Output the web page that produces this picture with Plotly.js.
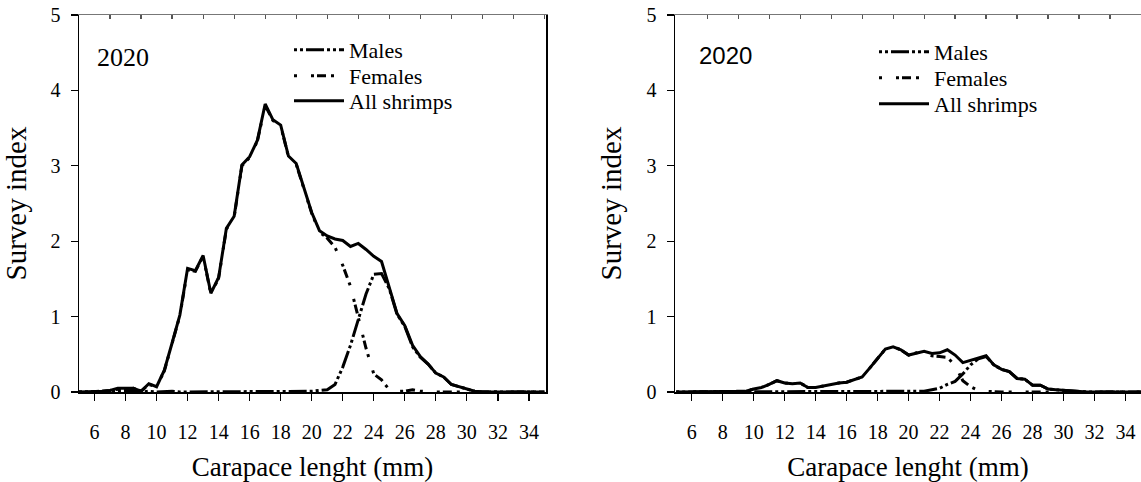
<!DOCTYPE html>
<html>
<head>
<meta charset="utf-8">
<script src="https://cdn.plot.ly/plotly-3.0.1.min.js"></script>
<style>html,body{margin:0;padding:0;background:#fff;}#chart{width:1141px;height:482px;}</style>
</head>
<body>
<div id="chart"></div>
<script>
// Carapace length classes (mm)
var lengths = [5,5.5,6,6.5,7,7.5,8,8.5,9,9.5,10,10.5,11,11.5,12,12.5,13,13.5,14,14.5,15,15.5,16,16.5,17,17.5,18,18.5,19,19.5,20,20.5,21,21.5,22,22.5,23,23.5,24,24.5,25,25.5,26,26.5,27,27.5,28,28.5,29,29.5,30,30.5,31,31.5,32,32.5,33,33.5,34,34.5,35];

// Left panel
var leftMales   = [0,0,0,0,0.01,0.02,0.02,0.02,0,0.01,0,0.01,0.01,0,0,0.01,0,0.01,0,0.01,0,0.01,0.01,0,0,0.01,0,0.01,0,0.01,0.01,0.02,0.03,0.10,0.33,0.62,0.97,1.30,1.56,1.57,1.37,1.03,0.87,0.60,0.46,0.37,0.25,0.20,0.10,0.07,0.03,0.01,0,0,0,0,0,0,0,0,0];
var leftFemales = [0,0,0,0.01,0.02,0.04,0.05,0.05,0.01,0.10,0.07,0.28,0.64,1.01,1.62,1.60,1.80,1.30,1.51,2.16,2.32,3.00,3.11,3.33,3.80,3.60,3.53,3.12,3.02,2.71,2.37,2.12,2.04,1.92,1.68,1.40,0.98,0.58,0.24,0.16,0.03,0.01,0.01,0.03,0.01,0,0,0,0,0,0,0,0,0,0,0,0,0,0,0,0];
var leftAll     = [0,0,0,0.01,0.02,0.05,0.05,0.05,0.01,0.11,0.07,0.29,0.65,1.02,1.64,1.61,1.81,1.31,1.52,2.17,2.33,3.01,3.12,3.34,3.82,3.61,3.54,3.13,3.03,2.72,2.38,2.14,2.07,2.03,2.01,1.93,1.97,1.89,1.80,1.73,1.40,1.04,0.88,0.62,0.47,0.37,0.25,0.20,0.10,0.07,0.03,0.01,0,0,0,0,0,0,0,0,0];

// Right panel
var rightMales   = [0,0,0,0,0,0,0,0,0,0,0,0,0,0,0,0,0,0,0,0,0,0,0,0,0,0,0,0,0,0,0,0,0.01,0.03,0.05,0.10,0.14,0.24,0.36,0.44,0.47,0.36,0.30,0.27,0.18,0.17,0.09,0.09,0.04,0.03,0.02,0.01,0,0,0,0,0,0,0,0,0];
var rightFemales = [0,0,0,0,0,0,0,0,0,0.01,0.04,0.06,0.10,0.15,0.12,0.11,0.12,0.06,0.06,0.08,0.11,0.12,0.13,0.16,0.20,0.32,0.44,0.57,0.60,0.56,0.49,0.52,0.53,0.48,0.47,0.46,0.35,0.15,0.07,0.02,0.01,0,0,0,0,0,0,0,0,0,0,0,0,0,0,0,0,0,0,0,0];
var rightAll     = [0,0,0,0,0,0,0,0,0,0.01,0.04,0.06,0.10,0.15,0.12,0.11,0.12,0.06,0.06,0.08,0.11,0.12,0.13,0.16,0.20,0.32,0.44,0.57,0.60,0.56,0.49,0.52,0.54,0.51,0.52,0.56,0.49,0.39,0.42,0.45,0.48,0.36,0.30,0.27,0.18,0.17,0.09,0.09,0.04,0.03,0.02,0.01,0,0,0,0,0,0,0,0,0];

var seriesNames = ["Males", "Females", "All shrimps"];
var bottomTicks = [6,8,10,12,14,16,18,20,22,24,26,28,30,32,34];
var topTicks = [7,9,11,13,15,17,19,21,23,25,27,29,31,33,35];
var yTicks = [0,1,2,3,4,5];
var panelLabel = "2020";
var xTitle = "Carapace lenght (mm)";
var yTitle = "Survey index";

var SERIF = "Liberation Serif";
var dashMales = "3px,3px,3px,3px,18px,3px";
var dashFemales = "3px,14px,3px,3px,9px,5px";

function mk(y, name, dash, xa, ya, lg) {
  return {x: lengths, y: y, name: name, type: "scatter", mode: "lines",
    xaxis: xa, yaxis: ya, legend: lg,
    line: {color: "#000", width: 3, dash: dash}};
}

var traces = [
  mk(leftMales, seriesNames[0], dashMales, "x", "y", "legend"),
  mk(leftFemales, seriesNames[1], dashFemales, "x", "y", "legend2"),
  mk(leftAll, seriesNames[2], "solid", "x", "y", "legend3"),
  mk(rightMales, seriesNames[0], dashMales, "x2", "y2", "legend4"),
  mk(rightFemales, seriesNames[1], dashFemales, "x2", "y2", "legend5"),
  mk(rightAll, seriesNames[2], "solid", "x2", "y2", "legend6"),
  // invisible helpers so top axes are drawn
  {x: lengths, y: leftAll, xaxis: "x3", yaxis: "y", type: "scatter", mode: "lines", line: {width: 0}, showlegend: false, hoverinfo: "skip", opacity: 0},
  {x: lengths, y: rightAll, xaxis: "x4", yaxis: "y2", type: "scatter", mode: "lines", line: {width: 0}, showlegend: false, hoverinfo: "skip", opacity: 0}
];

var W = 1141;
var leftDom = [79/W, 546/W];
var rightDom = [675/W, 1];
var leftRange = [5, 35.1];
var rightRange = [4.92, 35.0];

function bottomAxis(dom, rng, anchor) {
  return {domain: dom, range: rng, anchor: anchor, tickvals: bottomTicks, ticks: "outside", ticklen: 7, tickwidth: 1.2,
    tickcolor: "#000", showline: true, linecolor: "#000", linewidth: 1.5, showgrid: false, zeroline: false,
    ticklabelstandoff: 14, tickfont: {family: SERIF, size: 20, color: "#000"},
    title: {text: xTitle, font: {family: SERIF, size: 27, color: "#000"}, standoff: 20}};
}
function topAxis(over, rng, anchor) {
  return {overlaying: over, side: "top", anchor: anchor, range: rng, tickvals: topTicks, ticks: "inside", ticklen: 4, tickwidth: 1.2,
    tickcolor: "#555", showline: true, linecolor: "#777", linewidth: 1.5, showgrid: false, zeroline: false, showticklabels: false};
}
function leftAxis(anchor) {
  return {anchor: anchor, domain: [0, 1], range: [0, 5], tickvals: yTicks, ticks: "outside", ticklen: 7, tickwidth: 1.2, tickcolor: "#000",
    showline: true, linecolor: "#000", linewidth: 1.5, mirror: true, showgrid: false, zeroline: false,
    ticklabelstandoff: 6, tickfont: {family: SERIF, size: 20, color: "#000"},
    title: {text: yTitle, font: {family: SERIF, size: 29, color: "#000"}, standoff: 16}};
}

var legendCommon = {bgcolor: "rgba(0,0,0,0)", itemwidth: 50, font: {family: SERIF, size: 22, color: "#000"},
  xanchor: "left", yanchor: "top", itemclick: false};
function lg(xpx, ypxCenter) {
  return Object.assign({}, legendCommon, {x: xpx/W, y: (392 - (ypxCenter - 22))/377});
}

var layout = {
  width: 1141, height: 482,
  margin: {l: 0, r: 0, t: 15, b: 90, pad: 0},
  paper_bgcolor: "#fff", plot_bgcolor: "#fff",
  showlegend: true,
  xaxis: bottomAxis(leftDom, leftRange, "y"),
  xaxis2: bottomAxis(rightDom, rightRange, "y2"),
  xaxis3: topAxis("x", leftRange, "y"),
  xaxis4: topAxis("x2", rightRange, "y2"),
  yaxis: leftAxis("x"),
  yaxis2: leftAxis("x2"),
  legend: lg(289, 51),
  legend2: lg(289, 77),
  legend3: lg(289, 102),
  legend4: lg(874, 53),
  legend5: lg(874, 79),
  legend6: lg(874, 105),
  annotations: [
    {text: panelLabel, xref: "x domain", yref: "y domain", x: (95-79)/467, y: (392-57)/377, xanchor: "left", yanchor: "middle",
      showarrow: false, font: {family: SERIF, size: 26, color: "#000"}},
    {text: panelLabel, xref: "x2 domain", yref: "y2 domain", x: (697-675)/466, y: (392-56)/377, xanchor: "left", yanchor: "middle",
      showarrow: false, font: {family: "Liberation Sans", size: 24, color: "#000"}}
  ]
};

Plotly.newPlot("chart", traces, layout, {staticPlot: true, displayModeBar: false});
</script>
</body>
</html>
